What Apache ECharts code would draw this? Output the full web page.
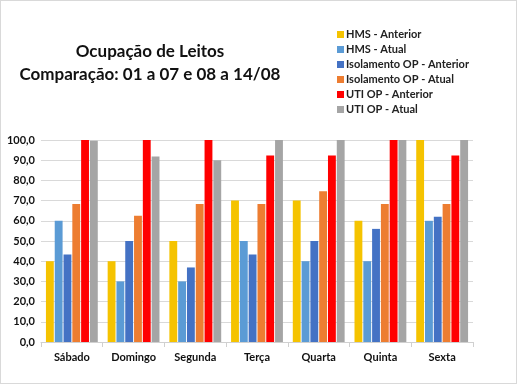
<!DOCTYPE html>
<html><head><meta charset="utf-8">
<script src="https://cdn.jsdelivr.net/npm/echarts@6/dist/echarts.min.js"></script>
<style>html,body{margin:0;padding:0;background:#fff}#c{width:517px;height:384px;box-sizing:border-box;border:1px solid #d9d9d9}</style>
</head><body><div id="c"></div>
<script>
const categories = ['Sábado','Domingo','Segunda','Terça','Quarta','Quinta','Sexta'];
const seriesNames = ['HMS - Anterior','HMS - Atual','Isolamento OP - Anterior','Isolamento OP - Atual','UTI OP - Anterior','UTI OP - Atual'];
const hmsAnterior = [40, 40, 50, 70, 70, 60, 100];
const hmsAtual = [60, 30, 30, 50, 40, 40, 60];
const isoAnterior = [43.3, 50, 36.9, 43.3, 50, 56, 62];
const isoAtual = [68.3, 62.5, 68.3, 68.3, 74.6, 68.3, 68.3];
const utiAnterior = [100, 100, 100, 92.3, 92.3, 100, 92.3];
const utiAtual = [99.6, 91.8, 90, 100, 100, 100, 100];
const yTicks = [0,10,20,30,40,50,60,70,80,90,100];
const colors = ['#F5C300','#5B9BD5','#4472C4','#ED7D31','#FF0000','#A5A5A5'];
const values = [hmsAnterior, hmsAtual, isoAnterior, isoAtual, utiAnterior, utiAtual];
const font = 'Lato, "Open Sans", sans-serif';
const chart = echarts.init(document.getElementById('c'));
chart.setOption({
  animation: false,
  title: {
    text: 'Ocupação de Leitos\nComparação: 01 a 07 e 08 a 14/08',
    left: 144, top: 34, textAlign: 'center',
    textStyle: {fontFamily: font, fontSize: 17, fontWeight: 'bold', color: '#111', lineHeight: 23}
  },
  legend: {
    orient: 'vertical', left: 331, top: 23, itemWidth: 7, itemHeight: 7, itemGap: 4,
    icon: 'rect',
    textStyle: {fontFamily: font, fontSize: 11, fontWeight: 'bold', color: '#222', padding: [0,0,0,-3]},
    data: seriesNames
  },
  grid: {left: 40, right: 43, top: 139, bottom: 41},
  xAxis: {
    type: 'category', data: categories,
    axisLine: {lineStyle: {color: '#d0d0d0'}},
    axisTick: {show: true, length: 5, lineStyle: {color: '#d0d0d0'}},
    axisLabel: {fontFamily: font, fontSize: 11, fontWeight: 'bold', color: '#111', margin: 10}
  },
  yAxis: {
    type: 'value', min: 0, max: 100, interval: 10,
    axisLabel: {fontFamily: font, fontSize: 11, fontWeight: 'bold', color: '#111', margin: 6,
      formatter: v => yTicks.includes(v) ? v.toFixed(1).replace('.', ',') : ''},
    splitLine: {lineStyle: {color: '#d9d9d9'}},
    axisLine: {show: false}, axisTick: {show: false}
  },
  series: seriesNames.map((n, i) => ({
    name: n, type: 'bar', data: values[i], barGap: '12%', barCategoryGap: '16%',
    itemStyle: {color: colors[i]}
  }))
});
</script></body></html>
